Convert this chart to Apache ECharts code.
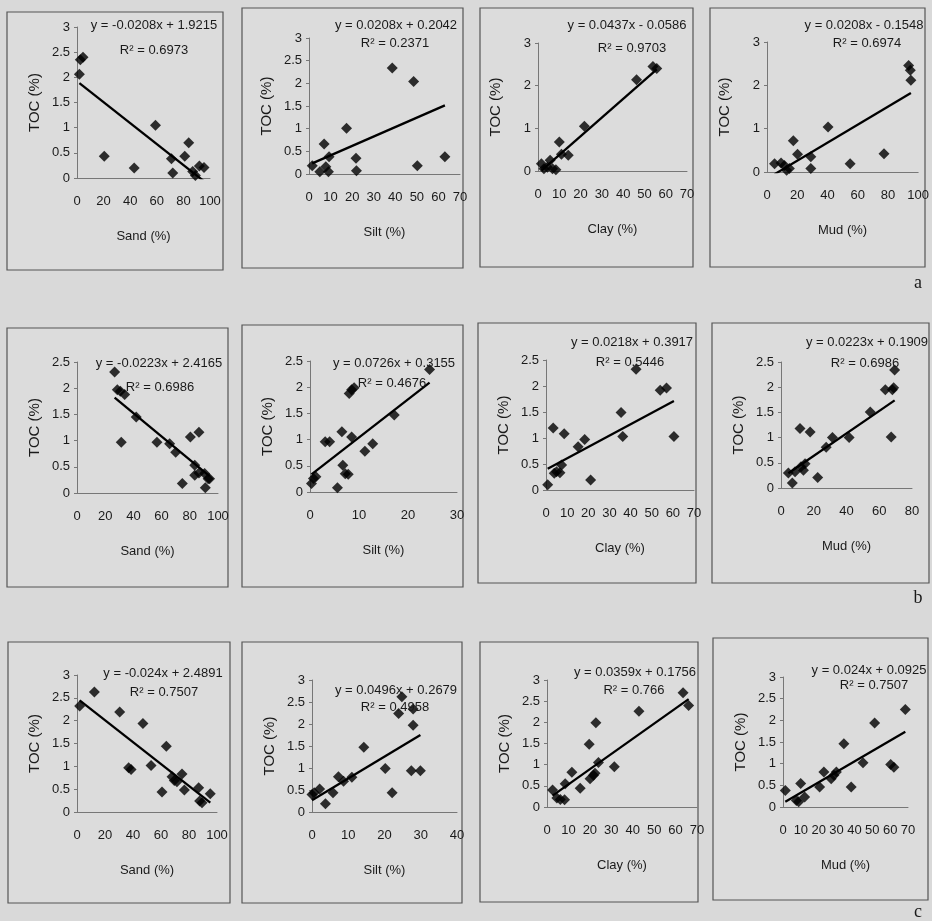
<!DOCTYPE html>
<html>
<head>
<meta charset="utf-8">
<script src="https://cdn.jsdelivr.net/npm/echarts@6/dist/echarts.min.js"></script>
<style>
html,body{margin:0;padding:0;background:#d9d9d9;}
#chart{width:932px;height:921px;}
</style>
</head>
<body>
<div id="chart"></div>
<script>
// ---------- data ----------
// row a
const a_sand_x = [1.8, 2.5, 4.5, 20.5, 43, 59, 71, 72, 81, 84, 87, 89, 92, 95.5];
const a_sand_toc = [2.06, 2.35, 2.40, 0.43, 0.20, 1.05, 0.38, 0.10, 0.43, 0.70, 0.13, 0.05, 0.24, 0.21];
const a_silt_x = [1.5, 5, 7, 7.8, 9, 9.3, 17.4, 21.8, 22, 38.6, 48.5, 50.2, 63];
const a_silt_toc = [0.18, 0.05, 0.66, 0.16, 0.05, 0.38, 1.01, 0.35, 0.07, 2.34, 2.04, 0.18, 0.38];
const a_clay_x = [1.6, 2.8, 4.4, 5.7, 6.8, 8.4, 10, 11, 14.2, 21.8, 46.3, 54, 55.8];
const a_clay_toc = [0.17, 0.05, 0.09, 0.25, 0.05, 0.03, 0.68, 0.39, 0.37, 1.05, 2.14, 2.45, 2.40];
const a_mud_x = [5, 9.3, 11.5, 13, 14.8, 17.4, 20.2, 29, 29, 40.4, 55, 77.4, 93.7, 94.8, 95.2];
const a_mud_toc = [0.19, 0.21, 0.15, 0.04, 0.08, 0.72, 0.41, 0.35, 0.08, 1.04, 0.19, 0.42, 2.46, 2.35, 2.12];
// row b
const b_sand_x = [26.7, 28.6, 30.7, 33.8, 31.4, 42, 56.7, 65.7, 70, 74.7, 80.4, 86.5, 83.5, 83.5, 86.5, 90.5, 93, 91, 94];
const b_sand_toc = [2.31, 1.97, 1.94, 1.88, 0.97, 1.45, 0.97, 0.94, 0.78, 0.18, 1.07, 1.16, 0.53, 0.34, 0.38, 0.37, 0.27, 0.10, 0.27];
const b_silt_x = [0.3, 0.7, 1.2, 3.1, 4.0, 5.6, 6.5, 6.7, 7.2, 7.8, 8.0, 8.5, 9.0, 8.5, 11.2, 12.8, 17.2, 24.4];
const b_silt_toc = [0.16, 0.26, 0.29, 0.96, 0.96, 0.08, 1.15, 0.51, 0.35, 0.34, 1.88, 1.95, 1.99, 1.05, 0.78, 0.92, 1.47, 2.34];
const b_clay_x = [0.8, 3.4, 3.9, 5, 6.6, 7.4, 8.6, 15.2, 18.3, 21.1, 35.5, 36.3, 42.6, 54, 57, 60.5];
const b_clay_toc = [0.10, 1.19, 0.32, 0.35, 0.33, 0.48, 1.08, 0.83, 0.97, 0.19, 1.49, 1.03, 2.32, 1.92, 1.96, 1.03];
const b_mud_x = [4.5, 6.9, 8.6, 11.6, 12.2, 13.7, 14.7, 17.8, 22.4, 27.6, 31.4, 41.6, 54.5, 63.7, 67.3, 68.0, 68.8, 69.4];
const b_mud_toc = [0.30, 0.10, 0.32, 1.18, 0.42, 0.35, 0.48, 1.11, 0.21, 0.81, 1.00, 1.00, 1.51, 1.95, 1.01, 1.95, 1.99, 2.34];
// row c
const c_sand_x = [1.9, 12.4, 30.5, 36.9, 38.6, 47.1, 52.9, 60.7, 63.8, 67.9, 69.5, 71.4, 75, 76.7, 86.9, 87.6, 89.3, 95.2];
const c_sand_toc = [2.32, 2.63, 2.19, 0.97, 0.93, 1.94, 1.02, 0.44, 1.44, 0.77, 0.69, 0.66, 0.83, 0.48, 0.53, 0.24, 0.20, 0.40];
const c_silt_x = [0, 0.6, 2.1, 3.7, 5.8, 7.3, 8.7, 11, 14.3, 20.2, 22.1, 23.9, 24.8, 27.9, 27.9, 27.4, 29.9];
const c_silt_toc = [0.40, 0.44, 0.52, 0.19, 0.44, 0.80, 0.70, 0.79, 1.47, 0.99, 0.44, 2.24, 2.62, 2.34, 1.97, 0.94, 0.94];
const c_clay_x = [2.6, 4.6, 6.2, 8.2, 8.5, 11.6, 15.5, 19.7, 20.1, 21.7, 22.4, 22.8, 24, 31.4, 42.9, 63.5, 66.1];
const c_clay_toc = [0.40, 0.21, 0.18, 0.17, 0.55, 0.82, 0.44, 1.48, 0.67, 0.75, 0.80, 1.99, 1.05, 0.95, 2.26, 2.70, 2.40];
const c_mud_x = [1.3, 7.5, 8.8, 9.9, 12.1, 20.5, 22.9, 27, 28.5, 29.9, 34.1, 38.2, 44.8, 51.3, 60.3, 62.1, 68.5];
const c_mud_toc = [0.38, 0.15, 0.12, 0.54, 0.23, 0.46, 0.81, 0.65, 0.73, 0.81, 1.46, 0.46, 1.02, 1.94, 0.98, 0.92, 2.25];

// regression labels and coefficients (as printed on the chart)
const slopes = [-0.0208, 0.0208, 0.0437, 0.0208, -0.0223, 0.0726, 0.0218, 0.0223, -0.024, 0.0496, 0.0359, 0.024];
const intercepts = [1.9215, 0.2042, -0.0586, -0.1548, 2.4165, 0.3155, 0.3917, 0.1909, 2.4891, 0.2679, 0.1756, 0.0925];
const eqLabels = ['y = -0.0208x + 1.9215','y = 0.0208x + 0.2042','y = 0.0437x - 0.0586','y = 0.0208x - 0.1548',
  'y = -0.0223x + 2.4165','y = 0.0726x + 0.3155','y = 0.0218x + 0.3917','y = 0.0223x + 0.1909',
  'y = -0.024x + 2.4891','y = 0.0496x + 0.2679','y = 0.0359x + 0.1756','y = 0.024x + 0.0925'];
const r2Labels = ['R² = 0.6973','R² = 0.2371','R² = 0.9703','R² = 0.6974',
  'R² = 0.6986','R² = 0.4676','R² = 0.5446','R² = 0.6986',
  'R² = 0.7507','R² = 0.4958','R² = 0.766','R² = 0.7507'];
const xAxisNames = ['Sand (%)','Silt (%)','Clay (%)','Mud (%)'];
const yAxisName = 'TOC (%)';
const xMaxes = [100,70,70,100, 100,30,70,80, 100,40,70,70];
const xSteps = [20,10,10,20, 20,10,10,20, 20,10,10,10];
const yMaxes = [3,3,3,3, 2.5,2.5,2.5,2.5, 3,3,3,3];
const ySteps = [0.5,0.5,1,1, 0.5,0.5,0.5,0.5, 0.5,0.5,0.5,0.5];
const rowLabels = ['a','b','c'];

const xs = [a_sand_x,a_silt_x,a_clay_x,a_mud_x, b_sand_x,b_silt_x,b_clay_x,b_mud_x, c_sand_x,c_silt_x,c_clay_x,c_mud_x];
const ys = [a_sand_toc,a_silt_toc,a_clay_toc,a_mud_toc, b_sand_toc,b_silt_toc,b_clay_toc,b_mud_toc, c_sand_toc,c_silt_toc,c_clay_toc,c_mud_toc];

// ---------- layout ----------
const grids = [ // left, top, width, height
  [77,27,133,151],[309,38,151,136],[538,43,149,128],[767,42,152,130],
  [77,362,141,131],[310,361,147,131],[546,360,148,130],[781,362,131,126],
  [77,675,140,137],[312,680,145,132],[547,680,150,127],[783,677,125,130]
];
const frames = [ // x1,y1,x2,y2
  [7,12,223,270],[242,8,463,268],[480,8,693,267],[710,8,925,267],
  [7,328,228,587],[242,325,463,587],[478,323,696,583],[712,323,929,583],
  [8,642,230,903],[242,642,462,903],[480,642,698,902],[713,638,928,900]
];
const eqPos = [ // eq cx, eq cy, r2 cx, r2 cy
  [154,25,154,50],[396,25,395,43],[627,25,632,48],[864,25,867,43],
  [159,363,160,387],[394,363,392,383],[632,342,630,362],[867,342,865,363],
  [163,673,164,692],[396,690,395,707],[635,672,634,690],[869,670,874,685]
];
const rowLabelPos = [[918,283],[918,598],[918,912]];

const FONT = '"Liberation Sans Narrow","Arial Narrow","Liberation Sans",Arial,sans-serif';
const TXT = '#1a1a1a';

const option = {
  backgroundColor: '#d9d9d9',
  animation: false,
  grid: [], xAxis: [], yAxis: [], series: [], graphic: []
};

frames.forEach(f => {
  option.graphic.push({type:'rect', z:-10, shape:{x:f[0],y:f[1],width:f[2]-f[0],height:f[3]-f[1]},
    style:{fill:'#dcdcdc', stroke:'#555', lineWidth:1.2}});
});

for (let i = 0; i < 12; i++) {
  const g = grids[i];
  option.grid.push({left:g[0], top:g[1], width:g[2], height:g[3], containLabel:false});
  option.xAxis.push({
    type:'value', gridIndex:i, min:0, max:xMaxes[i], interval:xSteps[i],
    name: xAxisNames[i % 4], nameLocation:'middle', nameGap:52,
    nameTextStyle:{fontFamily:FONT, fontSize:13, color:TXT},
    axisLine:{show:true, onZero:false, lineStyle:{color:'#777', width:1}},
    axisTick:{show:false},
    splitLine:{show:false},
    axisLabel:{fontFamily:FONT, fontSize:13, color:TXT, margin:17, hideOverlap:false}
  });
  option.yAxis.push({
    type:'value', gridIndex:i, min:0, max:yMaxes[i], interval:ySteps[i],
    name: yAxisName, nameLocation:'middle', nameGap:35, nameRotate:90,
    nameTextStyle:{fontFamily:FONT, fontSize:15, color:TXT},
    axisLine:{show:true, lineStyle:{color:'#777', width:1}},
    axisTick:{show:true, length:3, lineStyle:{color:'#777'}},
    splitLine:{show:false},
    axisLabel:{fontFamily:FONT, fontSize:13, color:TXT, margin:7}
  });
  const pts = xs[i].map((x, k) => [x, ys[i][k]]);
  option.series.push({
    type:'scatter', xAxisIndex:i, yAxisIndex:i, symbol:'diamond', symbolSize:11,
    itemStyle:{color:'#000'}, data:pts, z:3
  });
  const x0 = Math.min(...xs[i]), x1 = Math.max(...xs[i]);
  option.series.push({
    type:'line', xAxisIndex:i, yAxisIndex:i, symbol:'none',
    lineStyle:{color:'#000', width:2.3},
    data:[[x0, slopes[i]*x0 + intercepts[i]], [x1, slopes[i]*x1 + intercepts[i]]], z:4
  });
  const p = eqPos[i];
  option.graphic.push({type:'text', z:10, x:p[0], y:p[1],
    style:{text:eqLabels[i], fontFamily:FONT, fontSize:13, fill:TXT, align:'center', verticalAlign:'middle'}});
  option.graphic.push({type:'text', z:10, x:p[2], y:p[3],
    style:{text:r2Labels[i], fontFamily:FONT, fontSize:13, fill:TXT, align:'center', verticalAlign:'middle'}});
}
rowLabels.forEach((t, r) => {
  option.graphic.push({type:'text', z:10, x:rowLabelPos[r][0], y:rowLabelPos[r][1],
    style:{text:t, fontFamily:'"Liberation Serif","DejaVu Serif",serif', fontSize:18, fill:TXT, align:'center', verticalAlign:'middle'}});
});

const chart = echarts.init(document.getElementById('chart'), null, {renderer:'canvas'});
chart.setOption(option);
</script>
</body>
</html>
